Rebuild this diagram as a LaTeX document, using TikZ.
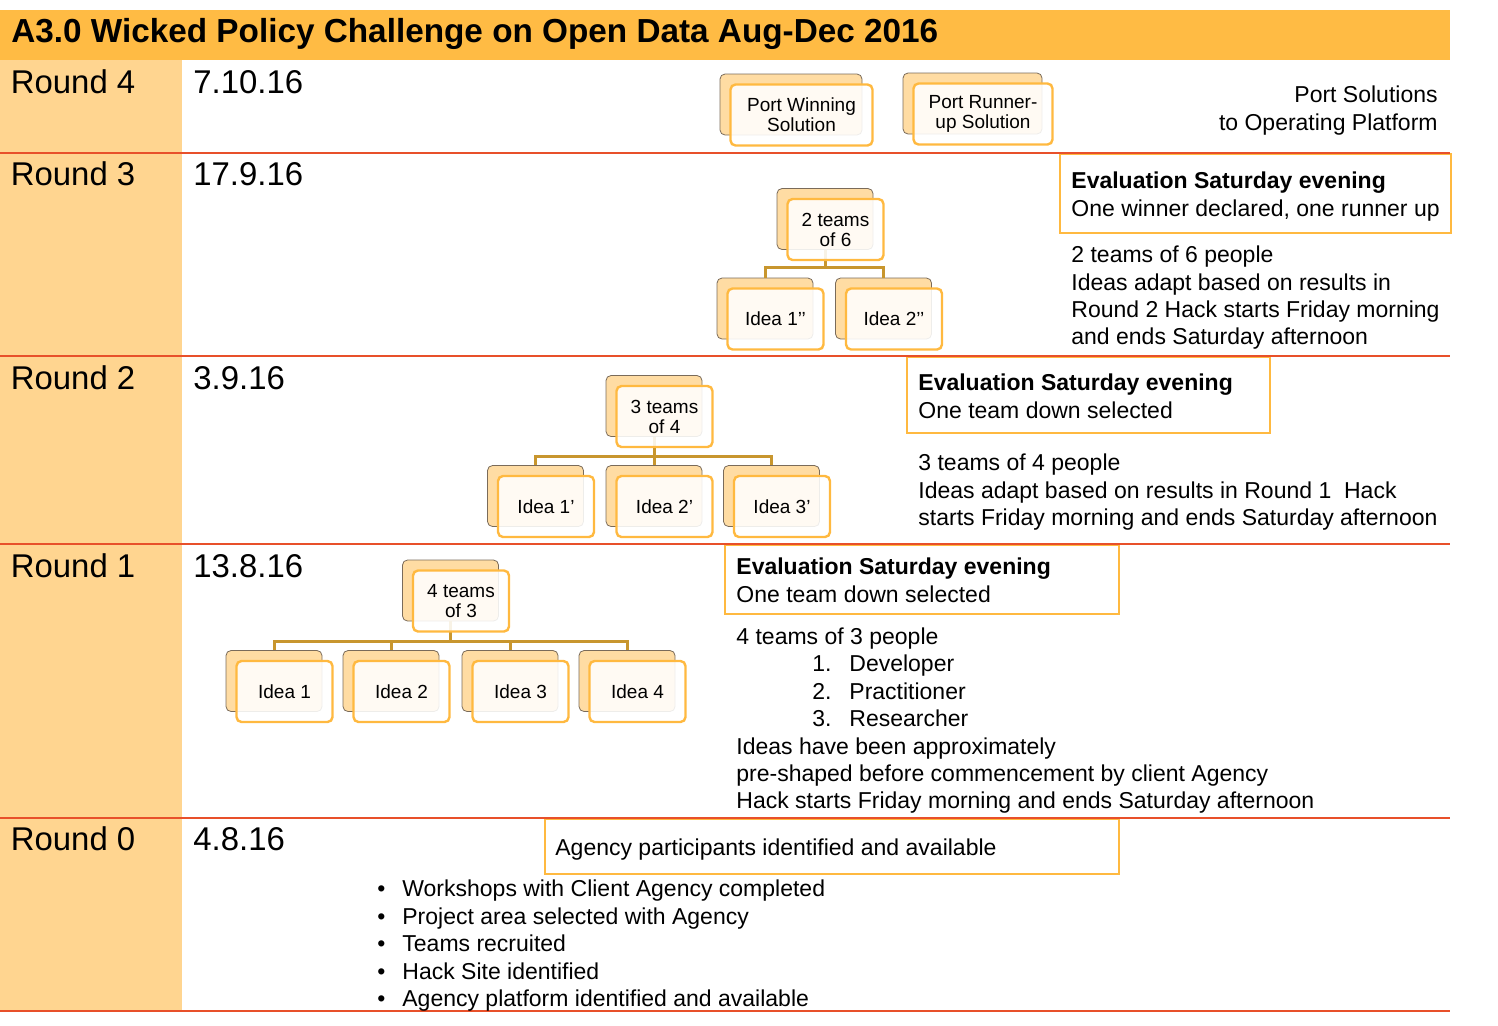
\documentclass[tikz,border=0pt]{standalone}
\usepackage{fontspec}
\setmainfont{Liberation Sans}
\definecolor{titlebar}{HTML}{FFBB44}
\definecolor{leftcol}{HTML}{FFD590}
\definecolor{sepred}{HTML}{E8502A}
\definecolor{boxor}{HTML}{FFB940}
\definecolor{backfill}{HTML}{FFDCA3}
\definecolor{backdraw}{HTML}{7A6B5A}
\definecolor{conn}{HTML}{C8962E}
\newcommand\boxfont{\fontsize{9.5}{10}\selectfont}
\newcommand\bodyfont{\fontsize{11.5}{13.8}\selectfont}
\newcommand\roundfont{\fontsize{16.45}{19}\selectfont}
\newcommand\titlefont{\fontsize{16.65}{20}\selectfont\bfseries}
\tikzset{
  backbox/.style={draw=backdraw, line width=0.4pt, fill=backfill, rounded corners=2.5pt,
    minimum width=48pt, minimum height=30.5pt, inner sep=0pt},
  frontbox/.style={draw=boxor, line width=1.2pt, fill=white, fill opacity=0.88, text opacity=1,
    rounded corners=2.5pt, minimum width=48pt, minimum height=30.5pt, align=center,
    inner sep=0pt, font=\boxfont},
  widebox/.style={minimum width=71pt},
  connector/.style={draw=conn, line width=1.5pt},
  evalbox/.style={draw=boxor, line width=1pt, anchor=north west, inner sep=0pt},
  sepline/.style={draw=sepred, line width=1.2pt},
  txt/.style={anchor=base west, inner sep=0pt, font=\bodyfont},
  rtxt/.style={anchor=base east, inner sep=0pt, font=\bodyfont},
  btxt/.style={anchor=base west, inner sep=0pt, font=\bodyfont\bfseries},
  roundlbl/.style={anchor=base west, inner sep=0pt, font=\roundfont},
}
\newcommand\backb[4][]{\node[backbox,#1] (#2B) at (#3,#4) {};}
\newcommand\frontb[3][]{\node[frontbox,#1] (#2) at ([shift={(10.5,10.5)}]#2B.center) {#3};}
\begin{document}
\begin{tikzpicture}[x=0.5pt,y=-0.5pt]
\useasboundingbox (0,0) rectangle (1498,1025);
% backgrounds
\fill[titlebar] (0,10) rectangle (1450,60);
\fill[leftcol] (0,60) rectangle (182,1011);
\node[anchor=base west, inner sep=0pt, font=\titlefont] (title) at (11,42)
  {A3.0 Wicked Policy Challenge on Open Data Aug-Dec 2016};

% evaluation boxes
\node[evalbox, minimum width=195.5pt, minimum height=39.5pt] (e3) at (1059,153) {};
\node[evalbox, minimum width=181.5pt, minimum height=38pt] (e2) at (906,356) {};
\node[evalbox, minimum width=197pt, minimum height=34.5pt] (e1) at (724,544) {};
\node[evalbox, minimum width=287pt, minimum height=27.5pt] (e0) at (544,818) {};

% separator lines
\foreach \yy in {153,356,544,818,1011} \draw[sepline] (0,\yy) -- (1450,\yy);

% round labels and dates
\node[roundlbl] (r4) at (10.5,93) {Round 4};
\node[roundlbl] (r3) at (10.5,185) {Round 3};
\node[roundlbl] (r2) at (10.5,389) {Round 2};
\node[roundlbl] (r1) at (10.5,577) {Round 1};
\node[roundlbl] (r0) at (10.5,850) {Round 0};
\node[roundlbl] (d4) at (193,93) {7.10.16};
\node[roundlbl] (d3) at (193,185) {17.9.16};
\node[roundlbl] (d2) at (193,389) {3.9.16};
\node[roundlbl] (d1) at (193,577) {13.8.16};
\node[roundlbl] (d0) at (193,850) {4.8.16};

% back boxes
\backb[widebox]{pw}{791}{104.5}
\backb[minimum width=69.5pt]{pr}{972.5}{103.5}
\backb{t3}{825}{219}
\backb{i3a}{765}{308.5}
\backb{i3b}{883.5}{308.5}
\backb{t2}{654}{406}
\backb{i2a}{535.5}{496}
\backb{i2b}{654}{496}
\backb{i2c}{771.5}{496}
\backb{t1}{450.5}{590.5}
\backb{i1a}{274}{681}
\backb{i1b}{391}{681}
\backb{i1c}{510}{681}
\backb{i1d}{627}{681}

% connectors
\foreach \c in {i3a,i3b} \draw[connector] (t3B.south) -- ++(0,18) -| (\c B.north);
\foreach \c in {i2a,i2b,i2c} \draw[connector] (t2B.south) -- ++(0,20) -| (\c B.north);
\foreach \c in {i1a,i1b,i1c,i1d} \draw[connector] (t1B.south) -- ++(0,20) -| (\c B.north);

% front boxes
\frontb[widebox]{pw}{Port Winning\\Solution}
\frontb[minimum width=69.5pt]{pr}{Port Runner-\\up Solution}
\frontb{t3}{2 teams\\of 6}
\frontb{i3a}{Idea 1’’}
\frontb{i3b}{Idea 2’’}
\frontb{t2}{3 teams\\of 4}
\frontb{i2a}{Idea 1’}
\frontb{i2b}{Idea 2’}
\frontb{i2c}{Idea 3’}
\frontb{t1}{4 teams\\of 3}
\frontb{i1a}{Idea 1}
\frontb{i1b}{Idea 2}
\frontb{i1c}{Idea 3}
\frontb{i1d}{Idea 4}

% Round 4 text
\node[rtxt] (r4a) at (1438,102) {Port Solutions};
\node[rtxt] (r4b) at (1438,130) {to Operating Platform};

% Round 3 text
\node[btxt] (r3e1) at (1071,188) {Evaluation Saturday evening};
\node[txt] (r3e2) at (1071,216) {One winner declared, one runner up};
\node[txt] (r3a) at (1071,262) {2 teams of 6 people};
\node[txt] (r3b) at (1071,290) {Ideas adapt based on results in};
\node[txt] (r3c) at (1071,317) {Round 2 Hack starts Friday morning};
\node[txt] (r3d) at (1071,344) {and ends Saturday afternoon};

% Round 2 text
\node[btxt] (r2e1) at (918,390) {Evaluation Saturday evening};
\node[txt] (r2e2) at (918,418) {One team down selected};
\node[txt] (r2a) at (918,470) {3 teams of 4 people};
\node[txt] (r2b) at (918,498) {Ideas adapt based on results in Round 1\ \ Hack};
\node[txt] (r2c) at (918,525) {starts Friday morning and ends Saturday afternoon};

% Round 1 text
\node[btxt] (r1e1) at (736,574) {Evaluation Saturday evening};
\node[txt] (r1e2) at (736,602) {One team down selected};
\node[txt] (r1a) at (736,644) {4 teams of 3 people};
\node[txt] (n1) at (812,671) {1.};
\node[txt] (n2) at (812,699) {2.};
\node[txt] (n3) at (812,726) {3.};
\node[txt] (l1) at (849,671) {Developer};
\node[txt] (l2) at (849,699) {Practitioner};
\node[txt] (l3) at (849,726) {Researcher};
\node[txt] (r1b) at (736,754) {Ideas have been approximately};
\node[txt] (r1c) at (736,781) {pre-shaped before commencement by client Agency};
\node[txt] (r1d) at (736,808) {Hack starts Friday morning and ends Saturday afternoon};

% Round 0 text
\node[txt] (r0e) at (555,855) {Agency participants identified and available};
\foreach \t/\yy [count=\k] in {Workshops with Client Agency completed/896,
  Project area selected with Agency/924, Teams recruited/951,
  Hack Site identified/979, Agency platform identified and available/1006} {
  \node[txt] (bul\k) at (377,\yy) {•};
  \node[txt] (b\k) at (402,\yy) {\t};
}
\end{tikzpicture}
\end{document}
